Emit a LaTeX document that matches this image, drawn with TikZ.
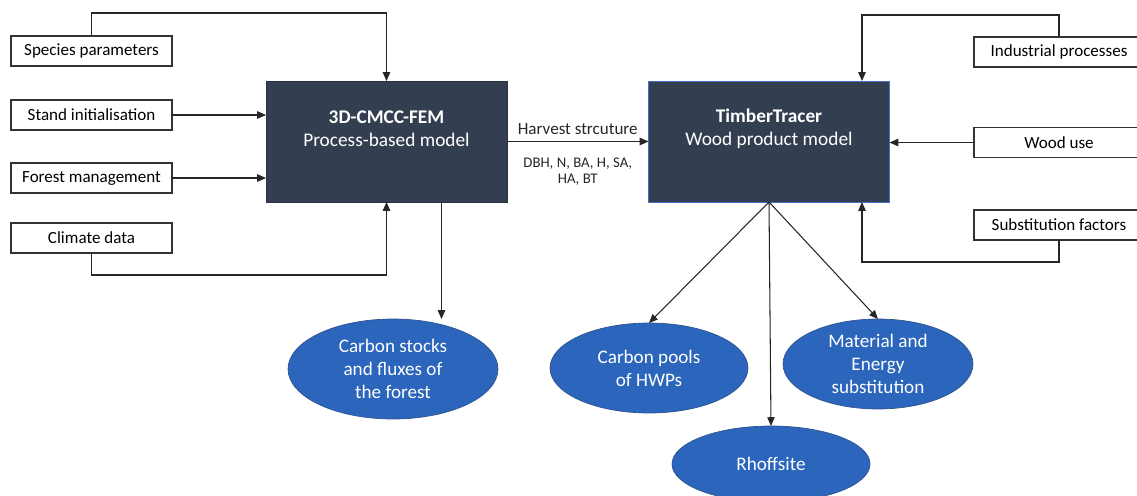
\documentclass[tikz,border=0pt]{standalone}
\usepackage{fontspec}
\setmainfont{Carlito}
\usetikzlibrary{positioning, shapes.geometric, arrows.meta, calc}
\definecolor{modelnavy}{HTML}{333F50}
\definecolor{outblue}{HTML}{2B66BC}
\definecolor{outedge}{HTML}{2F528F}
\definecolor{ttedge}{HTML}{4472C4}

\begin{document}
\begin{tikzpicture}[x=0.02cm, y=-0.02cm, font=\fontsize{9.7}{11.5}\selectfont,
    inbox/.style={draw=black!80, line width=0.6pt, minimum width=3.22cm, minimum height=0.6cm, inner sep=0pt, outer sep=0pt},
    model/.style={fill=modelnavy, draw=modelnavy!80!black, minimum width=4.82cm, minimum height=2.42cm, outer sep=0pt},
    modeltext/.style={text=white, align=center, font=\fontsize{11}{13}\selectfont},
    outcome/.style={ellipse, fill=outblue, draw=outedge, text=white, align=center, inner sep=0pt, outer sep=0pt, font=\fontsize{10.9}{13}\selectfont},
    arr/.style={-{Triangle[length=5pt, width=4.2pt]}, line width=0.6pt, black!85}]
  \useasboundingbox (0,0) rectangle (1137,495);
  \clip (0,0) rectangle (1137,495);

  % forest model and its inputs
  \node[model] (fem) at (386.5,141.5) {};
  \node[modeltext] (femlabel) at ($(fem.center)+(0,-13)$) {\textbf{3D-CMCC-FEM}\\Process-based model};
  \node[inbox] (species) at (91.5,51) {Species parameters};
  \node[inbox] (stand) at (91.5,115) {Stand initialisation};
  \node[inbox] (mgmt) at (91.5,178) {Forest management};
  \node[inbox] (climate) at (91.5,238) {Climate data};

  \draw[arr] (species.north) -- ++(0,-23) -| (fem.north);
  \draw[arr] (stand) -- (stand -| fem.west);
  \draw[arr] (mgmt) -- (mgmt -| fem.west);
  \draw[arr] (climate.south) -- ++(0,22) -| (fem.south);

  % wood product model and its inputs
  \node[model, draw=ttedge] (tt) at (769,141.5) {};
  \node[modeltext] (ttlabel) at ($(tt.center)+(0,-13)$) {\textbf{TimberTracer}\\Wood product model};
  \node[inbox, minimum width=3.4cm] (indus) at (1059,52) {Industrial processes};
  \node[inbox, minimum width=3.4cm] (wooduse) at (1059,142.5) {Wood use};
  \node[inbox, minimum width=3.4cm] (subst) at (1059,225) {Substitution factors};

  \coordinate (ttnin) at ($(tt.north)+(93,0)$);
  \coordinate (ttsin) at ($(tt.south)+(93,0)$);
  \draw[arr] (indus.north) -- ++(0,-22) -| (ttnin);
  \draw[arr] (wooduse) -- (wooduse -| tt.east);
  \draw[arr] (subst.south) -- ++(0,22) -| (ttsin);

  % link between the two models
  \draw[arr] (fem) -- node[above] (harvest) {Harvest strcuture}
    node[below=5.5pt, align=center, font=\fontsize{8.4}{9.6}\selectfont] (dims) {DBH, N, BA, H, SA,\\HA, BT} (tt);

  % outputs
  \node[outcome, minimum width=4.2cm, minimum height=2cm] (stocks) at (393,369) {Carbon stocks\\and fluxes of\\the forest};
  \node[outcome, minimum width=3.96cm, minimum height=1.8cm] (pools) at (649,368) {Carbon pools\\of HWPs};
  \node[outcome, minimum width=3.8cm, minimum height=1.8cm] (subs) at (878,364) {Material and\\Energy\\substitution};
  \node[outcome, minimum width=3.96cm, minimum height=1.52cm] (rhoff) at (771,464) {Rhoffsite};

  \coordinate (femout) at ($(fem.south)+(55,0)$);
  \draw[arr] (femout) -- (femout |- stocks.north);
  \draw[arr] (tt.south) -- (pools.north);
  \draw[arr] (tt.south) -- (rhoff.north);
  \draw[arr] (tt.south) -- (subs.north);
\end{tikzpicture}
\end{document}
